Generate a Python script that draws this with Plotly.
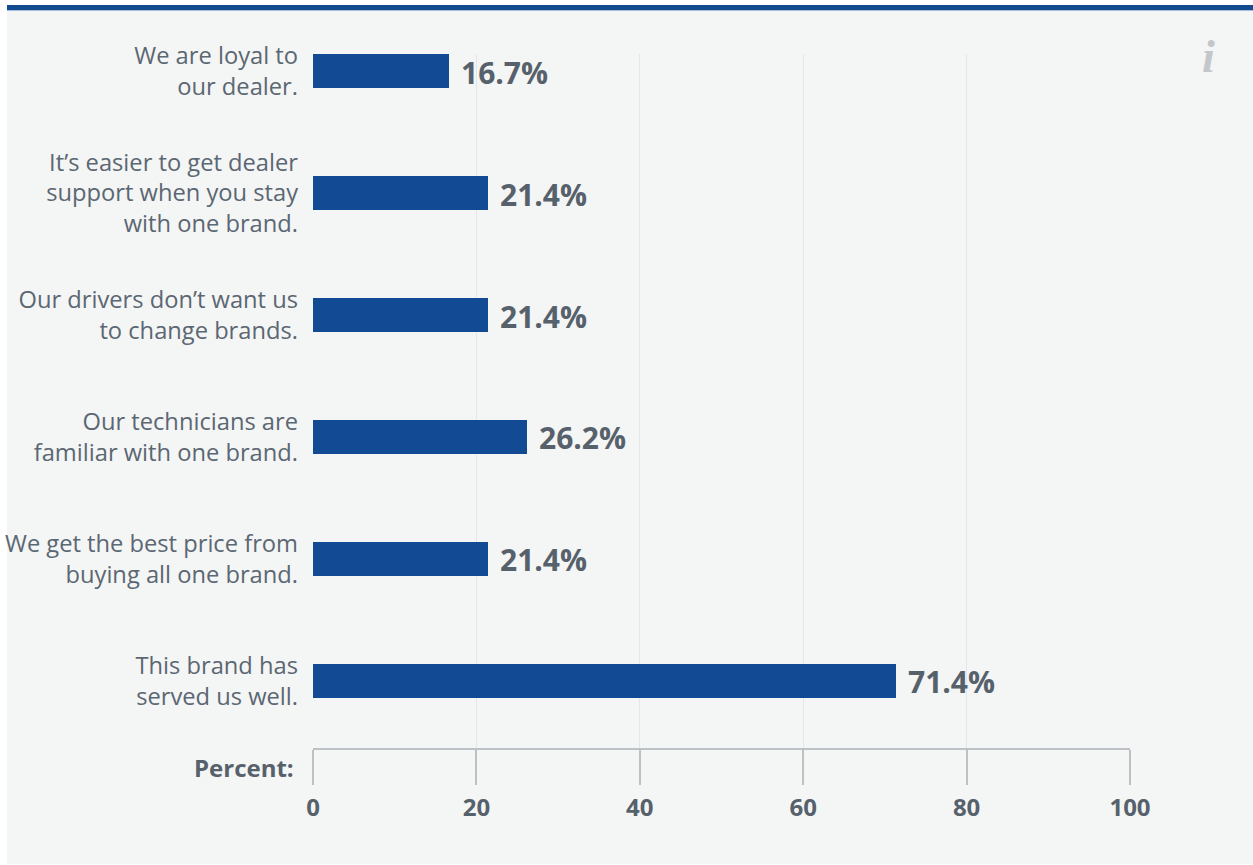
import plotly.graph_objects as go

# Survey responses: reasons for staying with one truck brand
categories = [
    "We are loyal to<br>our dealer.",
    "It\u2019s easier to get dealer<br>support when you stay<br>with one brand.",
    "Our drivers don\u2019t want us<br>to change brands.",
    "Our technicians are<br>familiar with one brand.",
    "We get the best price from<br>buying all one brand.",
    "This brand has<br>served us well.",
]
percent = [16.7, 21.4, 21.4, 26.2, 21.4, 71.4]
tick_values = [0, 20, 40, 60, 80, 100]

W, H = 1253, 865
L, R, T, B = 313, W - 1130, 54, H - 748
plot_w, plot_h = W - L - R, H - T - B

def px_x(px):
    return (px - L) / plot_w

def px_y(py):
    return (H - B - py) / plot_h

BAR = "#124a93"
TEXT = "#56616b"
FONT = "Open Sans"

fig = go.Figure()
fig.add_trace(go.Bar(
    x=percent,
    y=list(range(len(categories))),
    orientation="h",
    marker=dict(color=BAR, line=dict(width=0)),
    width=0.275,
    hoverinfo="skip",
))

# value labels beside each bar
for i, v in enumerate(percent):
    fig.add_annotation(
        x=v, y=i, xref="x", yref="y",
        text=f"<b>{v:.1f}%</b>",
        showarrow=False, xanchor="left", yanchor="middle", xshift=10, yshift=-1,
        font=dict(family=FONT, size=30, color=TEXT),
    )

fig.add_annotation(
    x=0, y=0, xref="paper", yref="paper",
    text="<b>Percent:</b>", showarrow=False,
    xanchor="right", yanchor="middle", xshift=-17, yshift=-19,
    font=dict(family=FONT, size=24, color=TEXT),
)

fig.add_annotation(
    x=px_x(1208), y=px_y(56), xref="paper", yref="paper",
    text="<b><i>i</i></b>", showarrow=False,
    xanchor="center", yanchor="middle",
    font=dict(family="Liberation Serif", size=46, color="#c4c7ca"),
)

shapes = [
    # panel background
    dict(type="rect", xref="paper", yref="paper", layer="below",
         x0=px_x(7), x1=px_x(W), y0=px_y(864), y1=px_y(5),
         fillcolor="#f4f5f5", line=dict(width=0)),
    # header rule
    dict(type="rect", xref="paper", yref="paper", layer="below",
         x0=px_x(7), x1=px_x(W), y0=px_y(10), y1=px_y(5),
         fillcolor="#134b91", line=dict(width=0)),
    dict(type="rect", xref="paper", yref="paper", layer="below",
         x0=px_x(7), x1=px_x(W), y0=px_y(11), y1=px_y(10),
         fillcolor="#a9bedd", line=dict(width=0)),
]

fig.update_layout(
    width=W, height=H,
    margin=dict(l=L, r=R, t=T, b=B, pad=0, autoexpand=False),
    paper_bgcolor="white",
    plot_bgcolor="rgba(0,0,0,0)",
    showlegend=False,
    shapes=shapes,
    bargap=0,
    xaxis=dict(
        range=[0, 100], tickvals=tick_values, ticktext=[str(t) for t in tick_values],
        showgrid=True, gridcolor="#e4e6e7", gridwidth=1,
        zeroline=False, automargin=False,
        showline=True, linecolor="#bcc1c5", linewidth=2,
        ticks="outside", ticklen=35, tickwidth=2, tickcolor="#bcc1c5",
        ticklabelstandoff=2,
        tickfont=dict(family=FONT, size=24, color=TEXT, weight="bold"),
        fixedrange=True,
    ),
    yaxis=dict(
        range=[5.55, -0.14], automargin=False,
        tickvals=list(range(len(categories))), ticktext=categories,
        showgrid=False, zeroline=False, showline=False,
        ticks="", ticklabelstandoff=14,
        tickfont=dict(family=FONT, size=23.7, color="#5b6772"),
        fixedrange=True,
    ),
)

fig.write_html("out.html", config={"displayModeBar": False})
